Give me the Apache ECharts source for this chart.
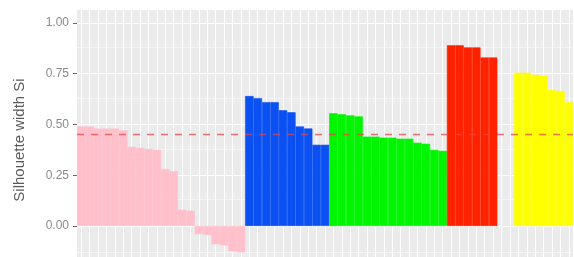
<!DOCTYPE html>
<html><head><meta charset="utf-8">
<script src="https://cdn.jsdelivr.net/npm/echarts@6/dist/echarts.min.js"></script>
<style>html,body{margin:0;padding:0;background:#fff}#c{width:574px;height:257px}</style>
</head><body><div id="c"></div>
<script>
// Silhouette widths per cluster (observations sorted within cluster)
const cluster1 = [0.49,0.49,0.48,0.48,0.48,0.47,0.39,0.385,0.38,0.375,0.28,0.27,0.08,0.075,-0.04,-0.045,-0.09,-0.095,-0.125,-0.13];
const cluster2 = [0.64,0.63,0.61,0.61,0.57,0.56,0.49,0.48,0.40,0.40];
const cluster3 = [0.555,0.55,0.545,0.54,0.44,0.44,0.435,0.435,0.43,0.43,0.41,0.405,0.375,0.37];
const cluster4 = [0.89,0.89,0.88,0.88,0.83,0.83];
const cluster5 = [0,0];
const cluster6 = [0.755,0.755,0.745,0.74,0.67,0.665,0.61];
const clusterValues = [cluster1,cluster2,cluster3,cluster4,cluster5,cluster6];
const clusterColors = ['#ffc0cb','#0a50f2','#00f500','#ff2200','#00e5ff','#ffff00'];
const categories = ['1','2','3','4','5','6','7','8','9','10','11','12','13','14','15','16','17','18','19','20',
  '21','22','23','24','25','26','27','28','29','30','31','32','33','34','35','36','37','38','39','40',
  '41','42','43','44','45','46','47','48','49','50','51','52','53','54','55','56','57','58','59'];
const yTicks = [0,0.25,0.5,0.75,1.0];
const yTickLabels = ['0.00','0.25','0.50','0.75','1.00'];
const yMinor = [-0.125,0.125,0.375,0.625,0.875];
const avgWidth = 0.45;

const barData = [];
clusterValues.forEach((arr,ci)=>{
  arr.forEach(v=>barData.push({value:v,itemStyle:{color:clusterColors[ci],borderColor:clusterColors[ci],borderWidth:v===0?0:0.6}}));
});

const gridLines = [];
yTicks.forEach(v=>gridLines.push({yAxis:v,lineStyle:{width:1.1}}));
yMinor.forEach(v=>gridLines.push({yAxis:v,lineStyle:{width:0.5}}));
categories.forEach(c=>gridLines.push({xAxis:c,lineStyle:{width:1}}));

const chart = echarts.init(document.getElementById('c'),null,{renderer:'canvas'});
chart.setOption({
  animation:false,
  backgroundColor:'#ffffff',
  grid:{left:77,right:1,top:10,bottom:0,show:true,backgroundColor:'#ebebeb',borderWidth:0},
  xAxis:{type:'category',data:categories,boundaryGap:true,
    axisLine:{show:false},axisTick:{show:false},axisLabel:{show:false},splitLine:{show:false}},
  yAxis:{type:'value',min:-0.153,max:1.064,
    axisLine:{show:false},splitLine:{show:false},
    axisTick:{show:true,length:4,customValues:yTicks,lineStyle:{color:'#666',width:1}},
    axisLabel:{show:true,customValues:yTicks,margin:8,color:'#8a8a8a',fontSize:12,fontFamily:'Liberation Sans, Arial, sans-serif',
      formatter:function(v){const i=yTicks.findIndex(t=>Math.abs(t-v)<1e-9);return i>=0?yTickLabels[i]:'';}}},
  graphic:[{type:'text',x:20,y:140,rotation:Math.PI/2,
    style:{text:'Silhouette width Si',fill:'#5a5a5a',font:'15px "Liberation Sans", Arial, sans-serif',align:'center',verticalAlign:'middle'}}],
  series:[
    {type:'line',data:categories.map(()=>null),symbol:'none',silent:true,z:1,
      markLine:{z:1,silent:true,symbol:'none',label:{show:false},lineStyle:{color:'#ffffff',type:'solid'},data:gridLines}},
    {type:'bar',data:barData,barCategoryGap:'0%',barGap:'0%',z:2,
      markLine:{z:5,silent:true,symbol:'none',label:{show:false},
        lineStyle:{color:'rgba(235,70,70,0.75)',type:[7,7],width:1.3},
        data:[{yAxis:avgWidth}]}}
  ]
});
</script></body></html>
